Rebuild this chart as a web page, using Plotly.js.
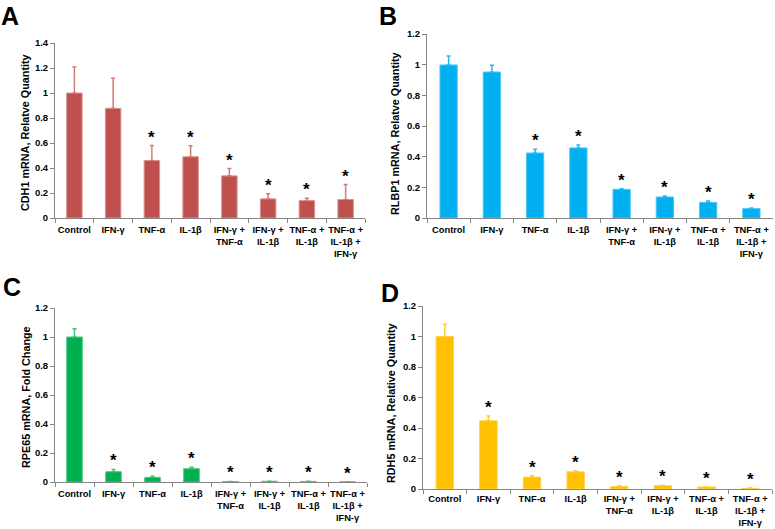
<!DOCTYPE html>
<html>
<head>
<meta charset="utf-8">
<script src="https://cdn.plot.ly/plotly-3.0.1.min.js"></script>
<style>html,body{margin:0;padding:0;background:#fff;}#chart{width:775px;height:529px;}</style>
</head>
<body>
<div id="chart"></div>
<script>
var categories = ["Control", "IFN-γ", "TNF-α", "IL-1β", "IFN-γ +<br>TNF-α", "IFN-γ +<br>IL-1β", "TNF-α +<br>IL-1β", "TNF-α +<br>IL-1β +<br>IFN-γ"];

var cdh1Values = [1.0, 0.877, 0.46, 0.49, 0.337, 0.153, 0.139, 0.148];
var cdh1Errors = [0.207, 0.242, 0.12, 0.087, 0.059, 0.04, 0.019, 0.12];
var cdh1Stars  = [false, false, true, true, true, true, true, true];

var rlbp1Values = [0.998, 0.952, 0.424, 0.457, 0.187, 0.137, 0.102, 0.061];
var rlbp1Errors = [0.059, 0.044, 0.024, 0.019, 0.004, 0.006, 0.009, 0.004];
var rlbp1Stars  = [false, false, true, true, true, true, true, true];

var rpe65Values = [1.0, 0.071, 0.032, 0.092, 0.003, 0.005, 0.004, 0.001];
var rpe65Errors = [0.057, 0.016, 0.007, 0.009, 0.001, 0.001, 0.001, 0.001];
var rpe65Stars  = [false, true, true, true, true, true, true, true];

var rdh5Values = [1.0, 0.447, 0.078, 0.113, 0.017, 0.022, 0.013, 0.004];
var rdh5Errors = [0.08, 0.032, 0.009, 0.007, 0.005, 0.002, 0.002, 0.004];
var rdh5Stars  = [false, true, true, true, true, true, true, true];

var panels = [
  {vals: cdh1Values, errs: cdh1Errors, stars: cdh1Stars, color: "#c0504d", edge: "#d99694", ecol: "#d47c7a",
   title: "CDH1 mRNA, Relatve Quantity", letter: "A", range: [0, 1.4],
   xd: [55, 365], yd: [43, 218], tx: 25, ty: 133, lx: 10, ly: 16, so: 3},
  {vals: rlbp1Values, errs: rlbp1Errors, stars: rlbp1Stars, color: "#00b0f0", edge: "#4dc8f5", ecol: "#20b8f0",
   title: "RLBP1 mRNA, Relatve Quantity", letter: "B", range: [0, 1.2],
   xd: [427, 773], yd: [34, 218], tx: 395, ty: 134, lx: 388, ly: 16, so: 3},
  {vals: rpe65Values, errs: rpe65Errors, stars: rpe65Stars, color: "#00b050", edge: "#4dc884", ecol: "#40c070",
   title: "RPE65 mRNA, Fold Change", letter: "C", range: [0, 1.2],
   xd: [55, 367], yd: [308, 482], tx: 26, ty: 397, lx: 12, ly: 287, so: 3},
  {vals: rdh5Values, errs: rdh5Errors, stars: rdh5Stars, color: "#ffc000", edge: "#ffd24d", ecol: "#ffcc33",
   title: "RDH5 mRNA, Relative Quantity", letter: "D", range: [0, 1.2],
   xd: [423, 772], yd: [306, 489], tx: 391, ty: 403, lx: 390, ly: 293, so: 1}
];

var W = 775, H = 529;
var data = [];
var layout = {
  width: W, height: H,
  margin: {l: 0, r: 0, t: 0, b: 0},
  paper_bgcolor: "#ffffff", plot_bgcolor: "#ffffff",
  showlegend: false,
  font: {family: "Liberation Sans, Arial, sans-serif", color: "#000000"},
  bargap: 0.6,
  annotations: []
};

panels.forEach(function(p, i) {
  var n = i + 1;
  var xa = n === 1 ? "x" : "x" + n;
  var ya = n === 1 ? "y" : "y" + n;
  var zeros = p.vals.map(function() { return 0; });
  data.push({
    type: "bar", x: categories, y: p.vals, xaxis: xa, yaxis: ya,
    marker: {color: p.color, line: {color: p.edge, width: 1}},
    error_y: {type: "data", array: p.errs, arrayminus: zeros, symmetric: false,
              color: p.ecol, thickness: 1.5, width: 2},
    hoverinfo: "none"
  });
  var xk = n === 1 ? "xaxis" : "xaxis" + n;
  var yk = n === 1 ? "yaxis" : "yaxis" + n;
  layout[xk] = {
    domain: [p.xd[0] / W, p.xd[1] / W], anchor: ya,
    type: "category", range: [-0.5, 7.5],
    showline: true, linecolor: "#868686", linewidth: 1,
    ticks: "outside", tickson: "boundaries", ticklen: 4, tickcolor: "#868686",
    ticklabelstandoff: p.so,
    showgrid: false, zeroline: false, fixedrange: true,
    tickfont: {size: 9.3, weight: "bold", color: "#000"}, tickangle: 0
  };
  layout[yk] = {
    domain: [1 - p.yd[1] / H, 1 - p.yd[0] / H], anchor: xa,
    range: p.range, dtick: 0.2,
    showline: true, linecolor: "#868686", linewidth: 1,
    ticks: "outside", ticklen: 4, tickcolor: "#868686",
    showgrid: false, zeroline: false, fixedrange: true,
    tickfont: {size: 9.5, weight: "bold", color: "#000"}
  };
  layout.annotations.push({
    xref: "paper", yref: "paper", x: p.tx / W, y: 1 - p.ty / H,
    text: p.title, textangle: -90, showarrow: false,
    xanchor: "center", yanchor: "middle",
    font: {size: 10.8, weight: "bold", color: "#000"}
  });
  layout.annotations.push({
    xref: "paper", yref: "paper", x: p.lx / W, y: 1 - p.ly / H,
    text: p.letter, showarrow: false, xanchor: "center", yanchor: "middle",
    font: {size: 25, weight: "bold", color: "#000"}
  });
  p.vals.forEach(function(v, k) {
    if (!p.stars[k]) return;
    layout.annotations.push({
      xref: xa, yref: ya, x: categories[k], y: v + p.errs[k],
      text: "*", showarrow: false, xanchor: "center", yanchor: "bottom",
      yshift: -3,
      font: {size: 17, weight: "bold", color: "#000"}
    });
  });
});

Plotly.newPlot("chart", data, layout, {displayModeBar: false, staticPlot: true});
</script>
</body>
</html>
